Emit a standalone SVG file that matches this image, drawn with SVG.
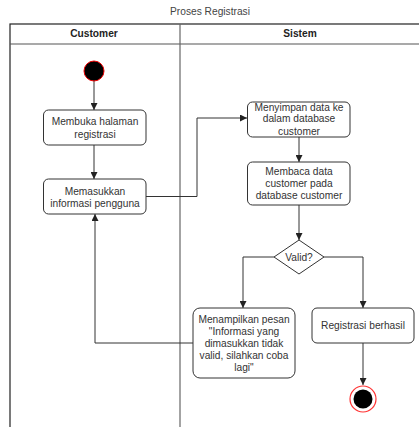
<svg xmlns="http://www.w3.org/2000/svg" width="419" height="427" viewBox="0 0 419 427">
<defs>
<marker id="arr" viewBox="0 0 8 8" refX="8" refY="4" markerWidth="7" markerHeight="7" markerUnits="userSpaceOnUse" orient="auto">
<path d="M0,0 L8,4 L0,8 Z" fill="#222"/>
</marker>
</defs>
<style>
text{font-family:"Liberation Sans",Arial,sans-serif;font-size:10.2px;fill:#333;text-anchor:middle}
.hd{font-weight:bold;fill:#222}
.box{fill:#fff;stroke:#333;stroke-width:1}
.ln{fill:none;stroke:#333;stroke-width:1}
.pool{fill:none;stroke:#222;stroke-width:1.2}
</style>
<rect width="419" height="427" fill="#fff"/>
<text x="210" y="14.5" style="fill:#444">Proses Registrasi</text>
<g id="pool">
<rect class="pool" x="10" y="24" width="430" height="430"/>
<line class="pool" x1="10" y1="44" x2="440" y2="44" style="stroke:#555"/>
<line class="pool" x1="180" y1="24" x2="180" y2="440" style="stroke:#666"/>
<text class="hd" x="94" y="37">Customer</text>
<text class="hd" x="300" y="37">Sistem</text>
</g>
<g id="connectors">
<line class="ln" x1="94" y1="81" x2="94" y2="110" marker-end="url(#arr)"/>
<line class="ln" x1="94" y1="145" x2="94" y2="179" marker-end="url(#arr)"/>
<polyline class="ln" points="146,196.5 197,196.5 197,118 247,118" marker-end="url(#arr)"/>
<line class="ln" x1="299" y1="137" x2="299" y2="162" marker-end="url(#arr)"/>
<line class="ln" x1="299" y1="205" x2="299" y2="240" marker-end="url(#arr)"/>
<polyline class="ln" points="274,257 243,257 243,308" marker-end="url(#arr)"/>
<polyline class="ln" points="324,257 363,257 363,308" marker-end="url(#arr)"/>
<polyline class="ln" points="193,343 95,343 95,214" marker-end="url(#arr)"/>
<line class="ln" x1="363" y1="343" x2="363" y2="385" marker-end="url(#arr)"/>
</g>
<g id="start">
<circle cx="94" cy="71" r="10" fill="#000" stroke="#e00" stroke-width="1"/>
</g>
<g id="membuka">
<rect class="box" x="43.5" y="110" width="102.5" height="35" rx="5"/>
<text x="95" y="124.5">Membuka halaman</text>
<text x="95" y="137.5">registrasi</text>
</g>
<g id="memasukkan">
<rect class="box" x="43.5" y="179" width="102.5" height="35" rx="5"/>
<text x="95" y="194.5">Memasukkan</text>
<text x="95" y="206.5">informasi pengguna</text>
</g>
<g id="menyimpan">
<rect class="box" x="247.5" y="102" width="102.5" height="35" rx="5"/>
<text x="299" y="110.5">Menyimpan data ke</text>
<text x="299" y="122">dalam database</text>
<text x="299" y="135">customer</text>
</g>
<g id="membaca">
<rect class="box" x="247.5" y="162" width="102.5" height="43" rx="5"/>
<text x="299" y="175">Membaca data</text>
<text x="299" y="187">customer pada</text>
<text x="299" y="199">database customer</text>
</g>
<g id="valid">
<polygon class="box" points="299,240 324,257 299,274 274,257"/>
<text x="299" y="260.5">Valid?</text>
</g>
<g id="menampilkan">
<rect class="box" x="193" y="308" width="102" height="70" rx="7"/>
<text x="244" y="322.5">Menampilkan pesan</text>
<text x="244" y="334.5">"Informasi yang</text>
<text x="244" y="346.5">dimasukkan tidak</text>
<text x="244" y="358.5">valid, silahkan coba</text>
<text x="244" y="370.5">lagi"</text>
</g>
<g id="berhasil">
<rect class="box" x="312" y="308" width="102" height="35" rx="5"/>
<text x="363" y="329">Registrasi berhasil</text>
</g>
<g id="end">
<circle cx="363" cy="399" r="13" fill="#fff" stroke="#f33" stroke-width="1.2"/>
<circle cx="363" cy="399" r="9.5" fill="#000"/>
</g>
</svg>
